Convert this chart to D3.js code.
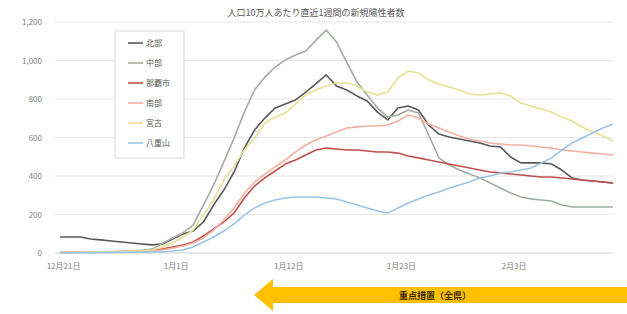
<!DOCTYPE html>
<html><head><meta charset="utf-8">
<script src="https://cdn.jsdelivr.net/npm/d3@7"></script>
<style>body{margin:0;background:#fff;font-family:"Noto Sans CJK JP","Noto Sans",sans-serif;}</style>
</head><body><svg id="c" width="627" height="314"></svg>
<script>
const title = "人口10万人あたり直近1週間の新規陽性者数";
const seriesNames = ["北部","中部","那覇市","南部","宮古","八重山"];
const seriesColors = ["#595959","#a3aca3","#c0504d","#f2b0a2","#e4e292","#9dc3e6"];
const startDate = new Date(2021, 11, 21);
const nDays = 55;
const tickIdx = [0, 11, 22, 33, 44];
const yTicks = [0, 200, 400, 600, 800, 1000, 1200];
const arrowLabel = "重点措置（全県）";

const hokubu = [83,83,83,73,68,62,57,52,47,42,47,73,99,114,161,249,327,421,545,639,701,753,774,795,836,880,925,868,847,816,790,732,691,753,764,743,665,618,603,592,582,571,556,551,499,468,468,468,462,431,390,379,374,369,364];
const chubu = [3,3,4,4,5,6,8,10,14,20,50,78,104,145,249,353,473,597,732,847,914,966,1003,1029,1049,1106,1158,1096,992,888,821,753,706,717,743,727,613,494,457,431,410,390,364,338,312,291,281,275,270,249,239,239,239,239,239];
const naha = [5,5,5,5,6,6,7,8,10,13,21,31,42,57,88,125,161,208,286,348,390,426,462,483,509,535,545,540,535,535,530,525,525,519,504,494,483,473,462,452,442,431,421,416,410,405,400,395,395,390,384,379,374,369,364];
const nanbu = [3,3,3,3,4,4,5,6,8,10,16,26,36,52,78,119,171,234,312,369,410,447,483,525,561,587,608,629,649,655,660,660,665,686,717,701,670,649,629,608,592,582,571,566,561,561,556,551,545,535,530,525,519,514,509];
const miyako = [5,5,5,6,6,7,8,10,12,15,31,52,83,119,197,275,379,452,535,597,675,706,727,774,821,847,868,883,883,868,836,821,836,909,945,935,899,878,862,847,826,821,826,831,816,779,764,748,732,706,686,655,629,608,582];
const yaeyama = [2,2,2,2,3,3,3,4,4,5,5,10,16,31,57,83,114,151,197,234,260,275,286,291,291,291,286,281,265,249,234,218,208,234,260,281,301,317,338,353,369,390,400,416,421,431,442,468,494,535,571,597,623,649,670];
const seriesValues = [hokubu, chubu, naha, nanbu, miyako, yaeyama];

const dates = d3.range(nDays).map(i => new Date(startDate.getTime() + i*86400000));
const svg = d3.select("#c");
const x = d3.scaleLinear().domain([0, nDays-1]).range([60, 613]);
const y = d3.scaleLinear().domain([0, 1200]).range([253, 22]);
const fmtN = d3.format(",");

// gridlines
svg.append("g").selectAll("line").data(yTicks).join("line")
  .attr("x1", 55).attr("x2", 613).attr("y1", d=>y(d)).attr("y2", d=>y(d))
  .attr("stroke", d=> d===0 ? "#d0d0d0" : "#e6e6e6").attr("stroke-width", 1);

// y axis labels
const yAxis = d3.axisLeft(y).tickValues(yTicks).tickFormat(fmtN).tickSize(0).tickPadding(0);
const gy = svg.append("g").attr("transform","translate(42,0)").call(yAxis);
gy.select(".domain").remove();
gy.selectAll("text").attr("fill","#7f7f7f").style("font-size","8px").style("font-family","'Noto Sans CJK JP',sans-serif");

// x axis labels
const xAxis = d3.axisBottom(x).tickValues(tickIdx).tickSize(0).tickPadding(0)
  .tickFormat(i => (dates[i].getMonth()+1) + "月" + dates[i].getDate() + "日");
const gx = svg.append("g").attr("transform","translate(3,263)").call(xAxis);
gx.select(".domain").remove();
gx.selectAll("text").attr("fill","#7f7f7f").style("font-size","8px").style("font-family","'Noto Sans CJK JP',sans-serif");

// lines
const line = d3.line().x((d,i)=>x(i)).y(d=>y(d));
seriesValues.forEach((vals, k) => {
  svg.append("path").datum(vals).attr("d", line).attr("fill","none")
    .attr("stroke", seriesColors[k]).attr("stroke-width", 1.6).attr("stroke-linejoin","round");
});

// title
svg.append("text").attr("x", 316).attr("y", 16).attr("text-anchor","middle")
  .attr("fill","#595959").style("font-size","9px").text(title);

// legend
const lg = svg.append("g");
lg.append("rect").attr("x",115).attr("y",31).attr("width",69).attr("height",127)
  .attr("fill","#fff").attr("stroke","#d9d9d9").attr("stroke-width",1);
seriesNames.forEach((n,k) => {
  const yy = 43 + k*20;
  lg.append("line").attr("x1",128).attr("x2",143).attr("y1",yy).attr("y2",yy)
    .attr("stroke",seriesColors[k]).attr("stroke-width",1.6);
  lg.append("text").attr("x",146).attr("y",yy+3).attr("fill","#595959")
    .style("font-size","8px").text(n);
});

// arrow
const ay = 295, ah = 8, headH = 16, tipX = 254, baseX = 273, endX = 627;
svg.append("path")
  .attr("d", `M${tipX},${ay} L${baseX},${ay-headH} L${baseX},${ay-ah} L${endX},${ay-ah} L${endX},${ay+ah} L${baseX},${ay+ah} L${baseX},${ay+headH} Z`)
  .attr("fill","#ffc000");
svg.append("text").attr("x",435).attr("y",ay+3.5).attr("text-anchor","middle")
  .attr("fill","#3a2a00").style("font-size","9px").style("font-weight","bold").text(arrowLabel);
</script></body></html>
